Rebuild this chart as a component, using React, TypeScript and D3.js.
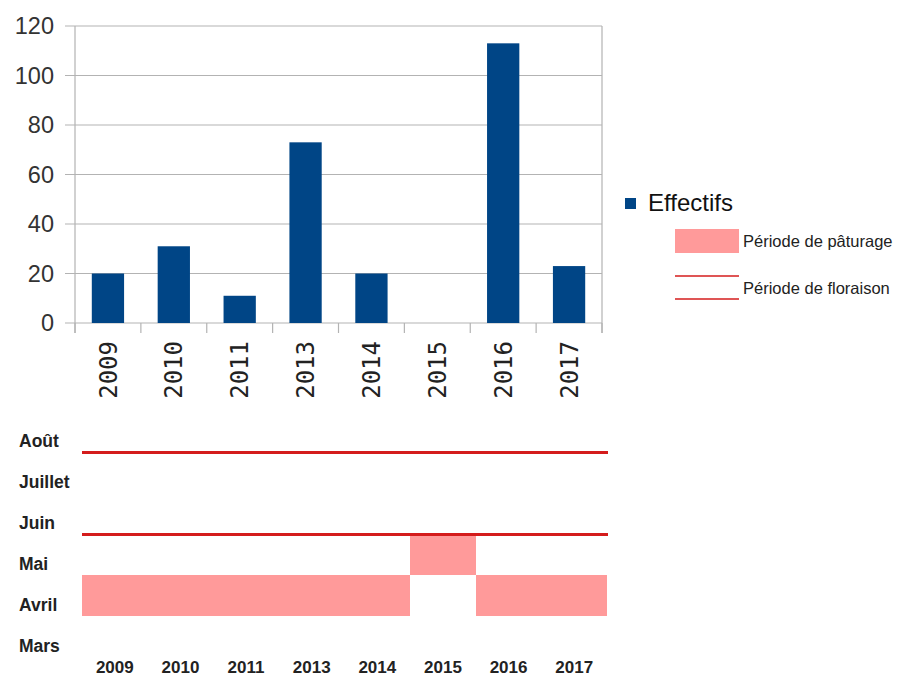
import React from "react";
import * as d3 from "d3";

const years = ["2009", "2010", "2011", "2013", "2014", "2015", "2016", "2017"];
const effectifs = [20, 31, 11, 73, 20, 0, 113, 23];
const yTicks = [0, 20, 40, 60, 80, 100, 120];

const months = ["Mars", "Avril", "Mai", "Juin", "Juillet", "Août"];
const monthValues = [3, 4, 5, 6, 7, 8];
// pâturage period (month start, month end) per year
const paturageStart = [4, 4, 4, 4, 4, 5, 4, 4];
const paturageEnd = [5, 5, 5, 5, 5, 6, 5, 5];
// floraison period per year
const floraisonStart = [6, 6, 6, 6, 6, 6, 6, 6];
const floraisonEnd = [8, 8, 8, 8, 8, 8, 8, 8];

const BLUE = "#004586";
const PINK = "#ff9a9a";
const RED = "#d41c1c";
const GRID = "#b3b3b3";

export default function App() {
  // Top chart
  const xTop = d3.scaleBand<string>().domain(years).range([75, 602]).paddingInner(0.51).paddingOuter(0.255);
  const xTopOuter = d3.scaleBand<string>().domain(years).range([75, 602]);
  const yTop = d3.scaleLinear().domain([0, 120]).range([323, 26]);
  const tickXs = years.map((y) => xTopOuter(y) as number).concat([602]);

  // Bottom chart
  const xBot = d3.scaleBand<string>().domain(years).range([82, 607]);
  const yBot = d3.scaleLinear().domain([3, 8]).range([657, 452]);

  const segs: { x1: number; x2: number; y: number }[] = [];
  years.forEach((y, i) => {
    const x1 = xBot(y) as number;
    const x2 = x1 + xBot.bandwidth();
    segs.push({ x1, x2, y: yBot(floraisonStart[i]) });
    segs.push({ x1, x2, y: yBot(floraisonEnd[i]) });
  });

  return (
    <svg width={902} height={677} style={{ position: "absolute", left: 0, top: 0, background: "#fff" }}>
      <rect x={0} y={0} width={902} height={677} fill="#fff" />
      {/* grid */}
      {yTicks.map((t) => (
        <g key={t}>
          <line x1={65} x2={602} y1={yTop(t)} y2={yTop(t)} stroke={GRID} strokeWidth={1.2} />
          <text
            x={54}
            y={yTop(t)}
            dy="0.36em"
            textAnchor="end"
            fontFamily="Liberation Sans, Arial, sans-serif"
            fontSize={23.5}
            fill="#333"
          >
            {t}
          </text>
        </g>
      ))}
      <line x1={75} x2={75} y1={26} y2={333} stroke={GRID} strokeWidth={1.2} />
      <line x1={602} x2={602} y1={26} y2={333} stroke={GRID} strokeWidth={1.2} />
      {tickXs.map((x, i) => (
        <line key={i} x1={x} x2={x} y1={323} y2={333} stroke={GRID} strokeWidth={1.2} />
      ))}
      {years.map((y, i) => (
        <rect
          key={y}
          x={xTop(y)}
          y={yTop(effectifs[i])}
          width={xTop.bandwidth()}
          height={yTop(0) - yTop(effectifs[i])}
          fill={BLUE}
        />
      ))}
      {years.map((y) => {
        const cx = (xTopOuter(y) as number) + xTopOuter.bandwidth() / 2;
        return (
          <text
            key={y}
            transform={`translate(${cx},341) rotate(-90)`}
            textAnchor="end"
            dy="0.36em"
            fontFamily="DejaVu Sans Mono, monospace"
            fontSize={24}
            fill="#222"
          >
            {y}
          </text>
        );
      })}

      {/* legend */}
      <rect x={625} y={198} width={11} height={11} fill={BLUE} />
      <text x={648} y={211} fontFamily="Liberation Sans, Arial, sans-serif" fontSize={24} fill="#111">
        Effectifs
      </text>
      <rect x={675} y={229} width={64} height={24} fill={PINK} />
      <text x={743} y={247} fontFamily="Liberation Sans, Arial, sans-serif" fontSize={16.5} fill="#222">
        Période de pâturage
      </text>
      <line x1={675} x2={739} y1={276} y2={276} stroke={RED} strokeWidth={1.5} />
      <line x1={675} x2={739} y1={299} y2={299} stroke={RED} strokeWidth={1.5} />
      <text x={743} y={294} fontFamily="Liberation Sans, Arial, sans-serif" fontSize={16.5} fill="#222">
        Période de floraison
      </text>

      {/* bottom chart */}
      {years.map((y, i) => (
        <rect
          key={y}
          x={xBot(y)}
          y={yBot(paturageEnd[i])}
          width={xBot.bandwidth()}
          height={yBot(paturageStart[i]) - yBot(paturageEnd[i])}
          fill={PINK}
          shapeRendering="crispEdges"
        />
      ))}
      {segs.map((s, i) => (
        <rect
          key={i}
          x={s.x1}
          y={s.y - 1.5}
          width={s.x2 - s.x1 + 0.6}
          height={3}
          fill={RED}
          shapeRendering="crispEdges"
        />
      ))}
      {months.map((m, i) => (
        <text
          key={m}
          x={19}
          y={yBot(monthValues[i]) - 5}
          fontFamily="Liberation Sans, Arial, sans-serif"
          fontWeight="bold"
          fontSize={17.5}
          fill="#222"
        >
          {m}
        </text>
      ))}
      {years.map((y) => (
        <text
          key={y}
          x={(xBot(y) as number) + xBot.bandwidth() / 2}
          y={673}
          textAnchor="middle"
          fontFamily="Liberation Sans, Arial, sans-serif"
          fontWeight="bold"
          fontSize={17}
          fill="#222"
        >
          {y}
        </text>
      ))}
    </svg>
  );
}
